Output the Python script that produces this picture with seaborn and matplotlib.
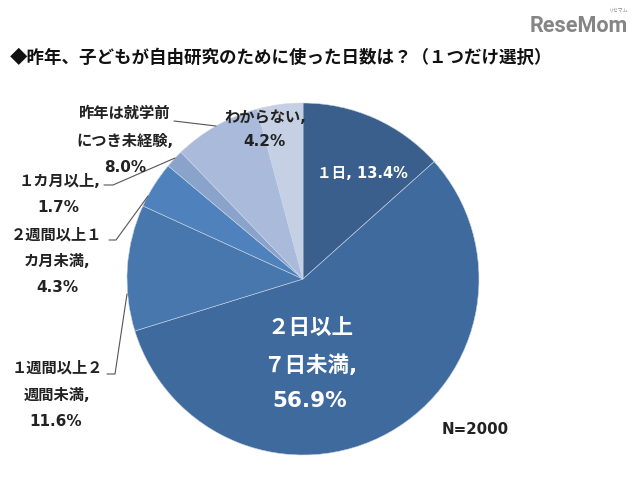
import matplotlib
matplotlib.use("Agg")
import matplotlib.pyplot as plt
import seaborn as sns

sns.set_theme(style="white")
# DejaVu first so latin digits come out wide like the original, CJK falls through
plt.rcParams['font.family'] = ['DejaVu Sans', 'Noto Sans CJK JP']

categories = ["1日", "2日以上7日未満", "1週間以上2週間未満", "2週間以上1カ月未満",
              "1カ月以上", "昨年は就学前につき未経験", "わからない"]
values = [13.4, 56.9, 11.6, 4.3, 1.7, 8.0, 4.2]
colors = ["#3a5f8d", "#3f6a9d", "#4877ad", "#4f81bd", "#8aa3cb", "#a9badb", "#c5d0e4"]

title = "◆昨年、子どもが自由研究のために使った日数は？（１つだけ選択）"

W, H = 640, 478
cx, cy, r = 303, 279, 176

fig = plt.figure(figsize=(W / 100, H / 100), dpi=100)

# pie axes sized so the circle lands where it should
ax = fig.add_axes([(cx - r) / W, (H - cy - r) / H, 2 * r / W, 2 * r / H])
ax.pie(values, colors=colors, startangle=90, counterclock=False, radius=1,
       wedgeprops={"edgecolor": "#c9d5e6", "linewidth": 0.4})
ax.set_xlim(-1, 1)
ax.set_ylim(-1, 1)
ax.axis("off")

# overlay in image pixels for the labels and leader lines
ov = fig.add_axes([0, 0, 1, 1])
ov.set_xlim(0, W)
ov.set_ylim(H, 0)
ov.axis("off")
ov.patch.set_alpha(0)

ov.text(10, 58, title, fontsize=12.6, fontweight="bold", color="#111111", ha="left", va="center",
        family=["Noto Sans CJK JP", "DejaVu Sans"])
ov.text(628, 26, "ReseMom", fontsize=15.5, fontweight="bold", color="#858585", ha="right", va="center",
        family=["Roboto", "DejaVu Sans"])
ov.text(619, 10, "リセマム", fontsize=3.5, color="#858585", ha="center", va="center",
        family=["Noto Sans CJK JP", "DejaVu Sans"])

labels = [
    ("昨年は就学前", 125, 113), ("につき未経験,", 125, 141), ("8.0%", 125, 167),
    ("わからない,", 265, 117), ("4.2%", 264, 142),
    ("１カ月以上,", 60, 181), ("1.7%", 58, 207),
    ("２週間以上１", 57, 235), ("カ月未満,", 57, 261), ("4.3%", 57, 287),
    ("１週間以上２", 57, 368), ("週間未満,", 57, 395), ("11.6%", 56, 421),
]
for txt, x, y in labels:
    ov.text(x, y, txt, fontsize=11, fontweight="bold", color="#222222", ha="center", va="center")

ov.text(362, 174, "１日, 13.4%", fontsize=10.5, fontweight="bold", color="white", ha="center", va="center")
for txt, y in [("２日以上", 328), ("７日未満,", 365), ("56.9%", 401)]:
    ov.text(310, y, txt, fontsize=15.5, fontweight="bold", color="white", ha="center", va="center")
ov.text(475, 429, "N=2000", fontsize=10.8, fontweight="bold", color="#222222", ha="center", va="center")

# leader lines
leaders = [
    ([174, 216], [121, 126]),
    ([104, 113, 175], [185, 185, 158]),
    ([109, 116, 148], [240, 240, 196]),
    ([107, 115, 127], [374, 374, 294]),
]
for xs, ys in leaders:
    ov.plot(xs, ys, color="#555555", linewidth=0.8)

fig.savefig("out.png", dpi=100)
